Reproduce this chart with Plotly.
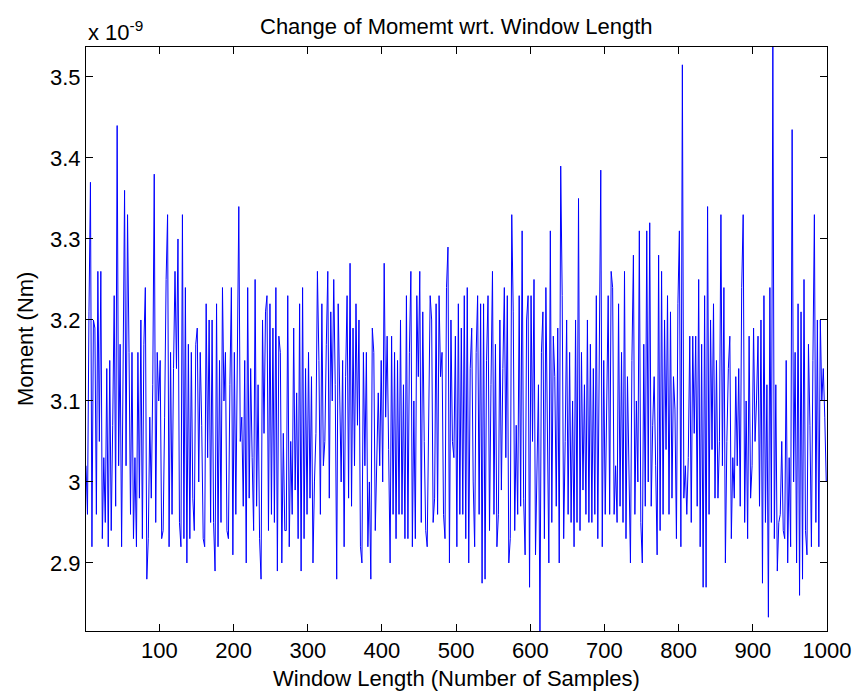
import plotly.graph_objects as go

# Moment values (units of 1e-9 Nm), sampled every 2nd window length 1..999
moment_1_249 = [
    3.02, 2.96, 3.21, 3.37, 2.92, 3.20, 3.19, 2.96, 3.26, 3.05, 3.26, 2.93, 3.03, 2.95, 3.14, 2.92, 3.15, 2.94, 3.07, 3.23, 2.97, 3.44, 3.02, 3.17, 2.92,
    3.13, 3.36, 3.02, 3.33, 3.16, 2.96, 3.16, 2.93, 3.03, 2.92, 3.16, 2.98, 3.20, 2.93, 3.17, 3.24, 2.88, 2.93, 3.08, 2.98, 3.12, 3.38, 2.95, 3.16, 3.10,
    3.15, 2.93, 2.94, 3.08, 3.25, 3.33, 2.92, 3.16, 2.96, 3.14, 3.26, 3.14, 3.30, 2.95, 2.92, 3.33, 2.93, 3.24, 2.90, 3.17, 2.93, 3.16, 2.98, 2.94, 3.17,
    3.19, 3.00, 3.16, 3.07, 2.93, 2.92, 3.22, 3.03, 3.20, 2.95, 3.20, 2.95, 2.89, 3.22, 2.92, 3.15, 2.95, 3.24, 3.10, 3.16, 2.94, 2.93, 3.12, 3.24, 2.91,
    3.16, 2.96, 3.12, 3.34, 3.05, 3.08, 2.97, 3.15, 2.90, 3.24, 2.98, 3.14, 3.03, 2.94, 3.25, 2.97, 3.12, 2.93, 2.88, 3.20, 3.06, 3.21, 3.23, 2.94, 3.22,
]
moment_251_499 = [
    2.96, 3.19, 2.95, 3.24, 2.89, 3.18, 3.16, 2.90, 3.06, 2.94, 2.94, 3.23, 2.92, 3.05, 2.96, 3.19, 2.99, 3.11, 2.93, 3.22, 2.89, 3.24, 2.93, 3.14, 2.96,
    3.16, 2.98, 3.13, 2.90, 3.00, 3.06, 3.26, 3.15, 2.96, 3.22, 3.02, 3.05, 3.17, 3.26, 2.98, 3.21, 3.10, 3.25, 3.12, 2.88, 3.22, 3.10, 3.00, 3.15, 2.92,
    3.13, 3.23, 2.98, 3.27, 2.97, 3.19, 3.02, 3.22, 3.07, 3.20, 2.92, 2.90, 3.16, 3.02, 3.16, 2.92, 3.00, 2.88, 3.19, 3.16, 2.94, 3.05, 3.11, 3.02, 3.15,
    3.00, 3.27, 3.08, 3.18, 3.04, 2.90, 3.18, 2.96, 3.16, 2.93, 3.15, 2.96, 3.20, 2.96, 3.12, 2.93, 3.23, 2.93, 3.16, 3.26, 2.92, 3.10, 2.93, 3.23, 3.13,
    3.26, 2.95, 3.21, 3.05, 2.94, 2.92, 3.05, 3.23, 3.20, 2.95, 2.98, 3.22, 2.96, 3.23, 3.13, 3.16, 2.96, 2.93, 3.24, 3.29, 2.90, 3.20, 3.05, 3.03, 3.18,
]
moment_501_749 = [
    2.92, 3.22, 2.96, 3.19, 2.96, 3.23, 2.93, 3.24, 2.90, 3.14, 3.19, 3.00, 2.92, 3.16, 3.23, 2.96, 3.22, 2.875, 3.22, 2.88, 3.15, 3.23, 2.94, 3.12, 3.26,
    2.96, 3.17, 2.92, 2.96, 3.20, 2.99, 3.14, 3.24, 3.03, 3.23, 2.90, 2.93, 3.33, 3.21, 2.94, 3.07, 2.96, 3.23, 2.97, 3.31, 2.98, 2.91, 3.20, 3.23, 2.87,
    3.23, 3.05, 3.25, 2.91, 3.04, 3.12, 2.816, 3.16, 3.21, 2.93, 3.24, 3.04, 2.90, 3.31, 2.95, 3.18, 3.13, 2.97, 3.19, 2.90, 3.39, 3.23, 2.93, 3.05, 3.20,
    2.96, 3.16, 2.95, 3.10, 2.92, 3.20, 2.95, 3.35, 2.94, 3.16, 2.99, 3.12, 2.96, 3.20, 2.95, 3.17, 2.95, 3.14, 2.96, 3.23, 2.93, 3.20, 3.385, 2.92, 3.15,
    2.96, 3.11, 3.23, 2.96, 3.26, 3.24, 2.96, 3.02, 2.95, 3.22, 2.97, 3.16, 2.95, 3.26, 2.93, 3.13, 3.02, 2.90, 3.15, 3.28, 2.96, 3.10, 3.00, 3.31, 2.95,
]
moment_751_999 = [
    2.90, 3.17, 2.97, 3.31, 3.00, 3.32, 2.97, 3.07, 3.13, 3.02, 2.91, 3.28, 2.94, 3.26, 2.96, 3.20, 3.04, 3.23, 2.96, 3.21, 2.98, 3.13, 3.09, 2.93, 3.22,
    3.31, 2.92, 3.515, 2.98, 3.02, 2.96, 3.03, 3.18, 2.95, 3.18, 3.06, 3.18, 2.97, 3.25, 2.92, 3.17, 2.87, 3.23, 2.87, 3.34, 2.96, 3.20, 3.04, 3.22, 2.98,
    3.15, 2.98, 3.05, 3.33, 3.02, 3.24, 2.90, 3.05, 3.14, 3.18, 2.93, 3.03, 2.98, 3.13, 3.02, 3.14, 2.97, 3.24, 3.33, 2.95, 3.10, 2.93, 3.18, 2.98, 3.02,
    3.19, 3.05, 3.10, 3.18, 2.97, 3.20, 2.875, 3.23, 2.95, 3.12, 2.833, 3.24, 2.95, 3.537, 2.93, 3.12, 2.89, 2.95, 2.96, 3.05, 2.94, 2.93, 3.15, 2.90, 3.03,
    2.92, 3.435, 3.00, 3.16, 2.90, 3.22, 2.86, 3.21, 2.88, 3.25, 2.94, 2.91, 3.17, 3.07, 2.92, 3.15, 3.33, 2.95, 3.20, 2.92, 3.20, 3.10, 3.14, 3.08, 3.00,
]

moment = moment_1_249 + moment_251_499 + moment_501_749 + moment_751_999
window_length = list(range(1, 2 * len(moment), 2))

x_tickvals = [100, 200, 300, 400, 500, 600, 700, 800, 900, 1000]
y_tickvals = [2.9, 3.0, 3.1, 3.2, 3.3, 3.4, 3.5]
y_ticktext = ["2.9", "3", "3.1", "3.2", "3.3", "3.4", "3.5"]

FONT = "Liberation Sans, Arial, Helvetica, sans-serif"
FS = 22

fig = go.Figure()
fig.add_trace(go.Scatter(
    x=window_length, y=moment, mode="lines",
    line=dict(color="#0000ff", width=1),
    showlegend=False,
))

axis_common = dict(
    showline=True, linecolor="black", linewidth=1, mirror="ticks",
    ticks="inside", ticklen=7, tickcolor="black", tickwidth=1,
    showgrid=False, zeroline=False, automargin=False,
    tickfont=dict(family=FONT, size=FS, color="black"),
)

fig.update_layout(
    width=853, height=691,
    margin=dict(l=86, r=26, t=47, b=60, autoexpand=False),
    paper_bgcolor="white", plot_bgcolor="white",
    xaxis=dict(range=[1, 1000], tickvals=x_tickvals, **axis_common),
    yaxis=dict(range=[min(moment), max(moment)], tickvals=y_tickvals,
               ticktext=y_ticktext, **axis_common),
    annotations=[
        dict(text="Change of Momemt wrt. Window Length",
             xref="paper", yref="paper", x=0.5, y=1, xanchor="center",
             yanchor="middle", yshift=21, showarrow=False,
             font=dict(family=FONT, size=FS, color="black")),
        dict(text="Window Length (Number of Samples)",
             xref="paper", yref="paper", x=0.5, y=0, xanchor="center",
             yanchor="middle", yshift=-47, showarrow=False,
             font=dict(family=FONT, size=FS, color="black")),
        dict(text="Moment (Nm)", textangle=-90,
             xref="paper", yref="paper", x=0, y=0.5, xanchor="center",
             yanchor="middle", xshift=-61, showarrow=False,
             font=dict(family=FONT, size=FS, color="black")),
        dict(text="x 10<sup>-9</sup>", xref="paper", yref="paper",
             x=0, y=1, xanchor="left", yanchor="bottom", yshift=0,
             showarrow=False,
             font=dict(family=FONT, size=FS, color="black")),
    ],
)

fig.write_html("out.html")
